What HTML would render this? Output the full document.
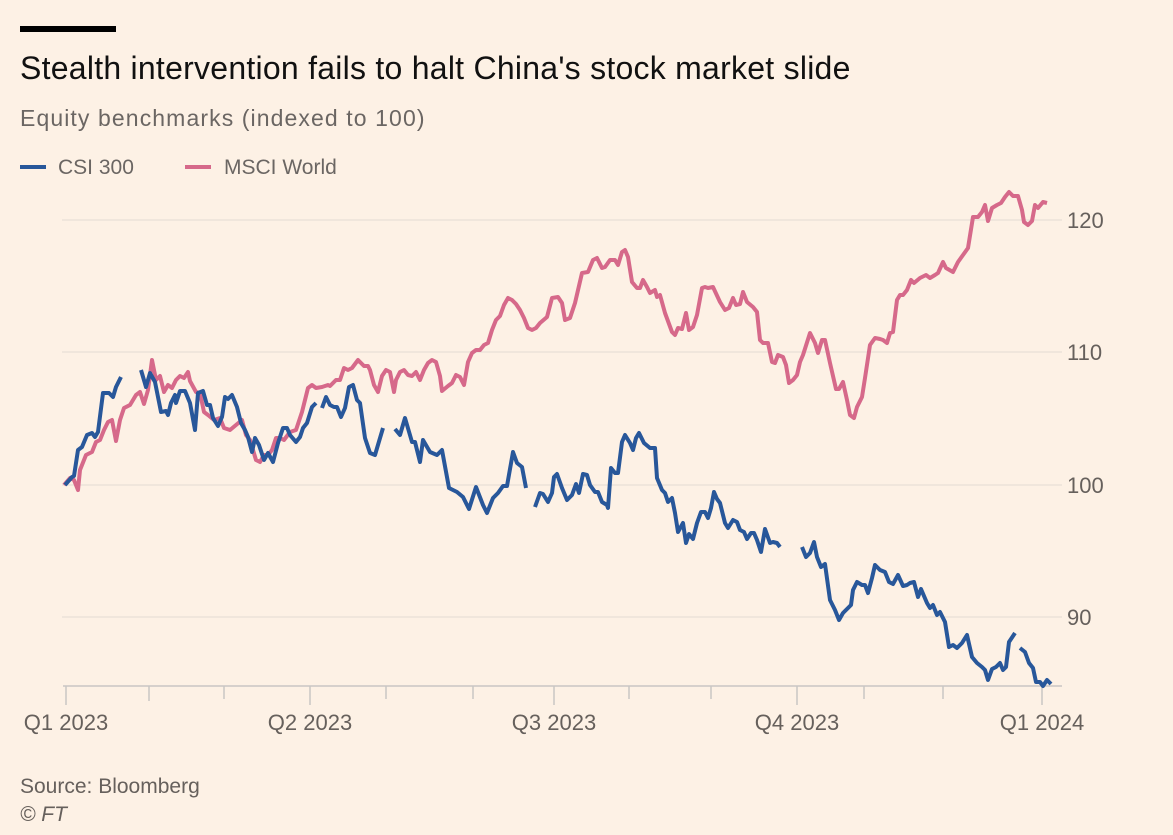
<!DOCTYPE html>
<html><head><meta charset="utf-8"><style>
html,body{margin:0;padding:0;background:#fdf1e5;}
body{width:1173px;height:835px;overflow:hidden;position:relative;font-family:"Liberation Sans",sans-serif;}
.t{position:absolute;white-space:nowrap;line-height:1;}
</style></head><body>
<div style="position:absolute;left:20px;top:26px;width:96px;height:6px;background:#000"></div>
<div class="t" style="left:20px;top:52px;font-size:32px;letter-spacing:0.25px;color:#111">Stealth intervention fails to halt China's stock market slide</div>
<div class="t" style="left:20px;top:107px;font-size:23px;letter-spacing:1.1px;color:#6b6663">Equity benchmarks (indexed to 100)</div>
<div style="position:absolute;left:20px;top:165px;width:26px;height:4px;background:#28579a"></div>
<div class="t" style="left:58px;top:157px;font-size:21px;color:#6b6663">CSI 300</div>
<div style="position:absolute;left:185px;top:165px;width:26px;height:4px;background:#d6698a"></div>
<div class="t" style="left:224px;top:157px;font-size:21px;color:#6b6663">MSCI World</div>
<svg width="1173" height="835" style="position:absolute;left:0;top:0">
<g stroke="#ebe2da" stroke-width="1.5">
<line x1="62" y1="220" x2="1062" y2="220"/><line x1="62" y1="352" x2="1062" y2="352"/>
<line x1="62" y1="485" x2="1062" y2="485"/><line x1="62" y1="617" x2="1062" y2="617"/>
</g>
<g stroke="#c9c6c4" stroke-width="1.5">
<line x1="63" y1="686" x2="1062" y2="686"/>
<line x1="66" y1="686" x2="66" y2="705"/><line x1="149" y1="686" x2="149" y2="701"/><line x1="224" y1="686" x2="224" y2="699"/>
<line x1="310" y1="686" x2="310" y2="705"/><line x1="386" y1="686" x2="386" y2="699"/><line x1="473" y1="686" x2="473" y2="699"/>
<line x1="554" y1="686" x2="554" y2="705"/><line x1="629" y1="686" x2="629" y2="699"/><line x1="711" y1="686" x2="711" y2="699"/>
<line x1="797" y1="686" x2="797" y2="705"/><line x1="864" y1="686" x2="864" y2="699"/><line x1="943" y1="686" x2="943" y2="699"/>
<line x1="1042" y1="686" x2="1042" y2="705"/>
</g>
<g font-family="Liberation Sans, sans-serif" font-size="22" fill="#66605c">
<text x="1067" y="228">120</text><text x="1067" y="360">110</text><text x="1067" y="493">100</text><text x="1067" y="625">90</text>
<text x="66" y="730" text-anchor="middle">Q1 2023</text><text x="310" y="730" text-anchor="middle">Q2 2023</text>
<text x="554" y="730" text-anchor="middle">Q3 2023</text><text x="797" y="730" text-anchor="middle">Q4 2023</text>
<text x="1042" y="730" text-anchor="middle">Q1 2024</text>
</g>
<g fill="none" stroke-width="4" stroke-linejoin="round" stroke-linecap="butt">
<polyline stroke="#d6698a" points="64,485 70,478 74,480 78,490 80,470 86,455 92,452 96,442 100,440 104,430 108,422 112,420 116,441 120,420 124,408 130,405 136,395 140,392 144,404 148,390 152,360 156,380 160,376 164,392 168,385 172,388 176,380 180,376 184,378 188,372 190,381 196,392 200,393 204,412 208,415 214,420 220,418 224,428 230,430 236,425 242,420 246,435 250,440 256,460 260,462 264,455 268,455 272,450 276,438 280,438 284,440 290,432 296,430 302,412 308,388 312,385 316,388 322,387 328,385 330,386 336,380 340,380 344,368 348,370 352,368 358,360 364,366 368,366 370,370 374,385 378,392 382,376 386,370 390,372 394,392 396,380 400,372 404,370 408,375 412,376 416,372 420,380 424,370 428,363 432,360 436,362 440,376 442,391 448,386 452,383 456,375 460,377 464,385 468,362 472,353 476,350 480,350 484,345 488,343 492,330 496,320 500,316 504,305 508,298 512,300 516,304 520,310 524,318 528,328 532,330 536,328 540,323 547,317 552,298 558,297 562,303 565,320 570,318 575,303 582,273 588,272 593,260 597,258 602,268 605,267 610,260 615,260 618,265 622,252 625,250 628,257 632,282 637,288 640,288 643,280 647,287 650,293 655,290 657,297 660,295 665,313 672,332 675,335 678,328 682,329 686,313 689,330 693,327 697,315 702,288 705,287 708,288 713,287 720,302 725,310 729,308 733,298 736,305 740,304 743,292 747,302 753,307 757,312 760,340 763,343 768,343 772,362 775,363 778,355 783,357 786,365 789,383 793,380 797,375 800,362 803,355 810,333 815,343 818,353 822,340 825,340 830,363 836,389 839,389 843,382 847,400 850,415 854,418 857,407 862,397 865,378 870,345 875,338 880,339 883,340 887,343 890,333 893,332 897,300 900,295 903,295 907,290 911,280 914,283 920,278 926,275 930,278 935,275 938,273 943,262 946,268 953,272 958,262 963,255 968,248 973,217 978,217 982,212 985,205 988,221 992,208 997,205 1001,203 1005,197 1009,192 1013,196 1018,196 1022,210 1024,222 1028,225 1032,221 1035,205 1038,208 1043,202 1047,203"/>
<g stroke="#28579a">
<polyline points="65,485 72,477 74,476 78,450 82,447 87,435 92,433 95,437 98,432 103,393 109,393 113,397 116,387 121,377"/>
<polyline points="141,370 146,387 150,373 155,382 161,412 166,411 168,415 171,403 175,395 176,403 180,391 185,391 190,403 195,430 198,393 203,391 207,405 210,405 213,418 218,426 222,417 225,397 228,399 232,395 237,407 241,423 245,430 248,437 252,452 255,438 259,445 264,460 268,453 273,462 278,443 283,428 287,428 290,435 296,442 300,437 303,428 307,423 312,407 316,403"/>
<polyline points="322,408 326,397 330,405 334,407 337,407 341,417 345,408 349,387 353,385 357,400 360,403 365,438 370,453 375,455 383,428"/>
<polyline points="395,429 400,435 405,418 412,442 415,442 420,462 423,440 430,452 437,455 442,450 449,488 457,492 463,497 469,509 476,487 483,505 487,513 493,498 498,493 503,486 507,486 513,452 517,463 522,467 526,488"/>
<polyline points="535,507 540,493 543,494 548,502 552,493 554,477 557,474 562,488 567,500 572,495 576,484 579,493 583,474 587,475 590,485 595,492 598,492 602,502 607,505 608,508 611,468 615,473 618,473 622,442 625,435 630,443 633,450 636,438 639,433 644,443 650,448 655,448 657,478 662,490 665,493 668,502 672,498 675,513 678,532 683,523 686,543 689,534 693,539 697,523 701,512 705,512 708,518 711,508 714,492 717,499 720,503 725,523 728,528 733,520 737,522 740,530 744,532 747,539 751,533 754,533 757,540 761,552 765,529 770,543 773,542 777,543 780,547"/>
<polyline points="802,547 806,557 810,553 814,542 817,557 821,567 825,564 830,600 835,610 839,620 843,613 851,605 853,590 857,582 862,585 865,585 868,593 872,578 875,565 880,570 885,572 889,582 893,584 898,575 903,586 907,585 910,583 914,582 918,597 921,589 927,603 930,608 933,605 937,615 940,612 945,622 949,647 953,645 957,648 962,643 967,635 972,657 977,663 982,667 985,670 988,680 992,669 996,667 1000,663 1003,670 1006,667 1009,642 1015,633"/>
<polyline points="1020,648 1025,652 1029,663 1033,668 1036,682 1040,682 1043,686 1047,680 1051,684"/>
</g>
</g>
</svg>
<div class="t" style="left:20px;top:776px;font-size:21px;color:#66605c">Source: Bloomberg</div>
<div class="t" style="left:20px;top:804px;font-size:21px;color:#66605c;font-style:italic">© FT</div>
</body></html>
